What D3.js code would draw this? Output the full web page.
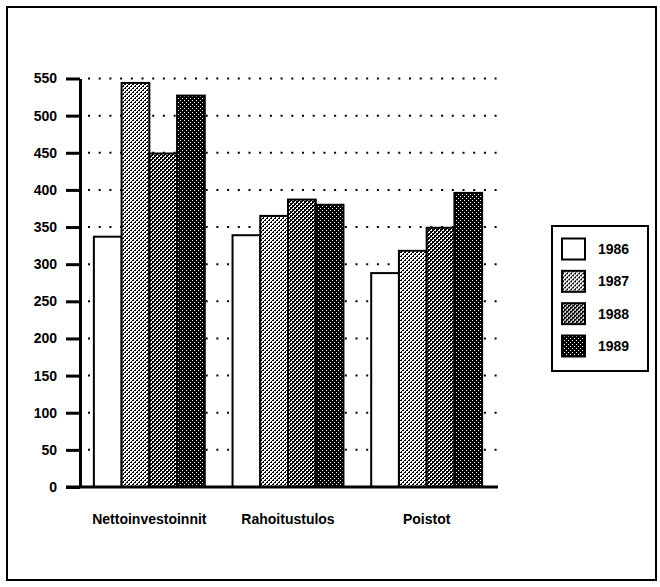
<!DOCTYPE html>
<html>
<head>
<meta charset="utf-8">
<script src="https://cdn.jsdelivr.net/npm/d3@7"></script>
<style>
  html, body { margin: 0; padding: 0; background: #fff; }
  svg { display: block; }
  text { font-family: "Liberation Sans", Arial, Helvetica, sans-serif; font-weight: bold; fill: #000; }
</style>
</head>
<body>
<svg id="chart" width="660" height="587"></svg>
<script>
// ---- data ----
const categories = ["Nettoinvestoinnit", "Rahoitustulos", "Poistot"];
const years = ["1986", "1987", "1988", "1989"];
const values1986 = [337, 339, 288];
const values1987 = [544, 365, 318];
const values1988 = [449, 387, 349];
const values1989 = [527, 380, 396];
const yTickValues = [0, 50, 100, 150, 200, 250, 300, 350, 400, 450, 500, 550];
const gridValues = [50, 100, 150, 200, 250, 300, 350, 400, 450, 500, 550];

const series = [values1986, values1987, values1988, values1989];
const rows = [];
categories.forEach((c, ci) => {
  years.forEach((yr, yi) => rows.push({ category: c, year: yr, value: series[yi][ci] }));
});

const svg = d3.select("#chart");

// ---- patterns ----
const defs = svg.append("defs");
function makePattern(id, bg, fg, cells) {
  const p = defs.append("pattern").attr("id", id).attr("patternUnits", "userSpaceOnUse")
    .attr("width", 4).attr("height", 4);
  p.append("rect").attr("width", 4).attr("height", 4).attr("fill", bg);
  cells.forEach(c => p.append("rect").attr("x", c[0]).attr("y", c[1])
    .attr("width", c[2]).attr("height", c[3]).attr("fill", fg)
    .attr("shape-rendering", "crispEdges"));
}
const stipple = [[0, 0, 2, 1], [2, 2, 2, 1], [3, 1, 1, 1], [1, 3, 1, 1]];
makePattern("p1987", "#fff", "#000", stipple);
makePattern("p1988", "#000", "#fff", stipple);
makePattern("p1989", "#000", "#fff", [[0, 0, 1, 1], [2, 2, 1, 1]]);
const fills = { "1986": "#fff", "1987": "url(#p1987)", "1988": "url(#p1988)", "1989": "url(#p1989)" };

// ---- frame ----
svg.append("rect").attr("x", 7).attr("y", 7).attr("width", 649).attr("height", 573)
  .attr("fill", "none").attr("stroke", "#000").attr("stroke-width", 2);

// ---- scales ----
const y = d3.scaleLinear().domain([0, 550]).range([487, 78.5]);
const x0 = d3.scaleBand().domain(categories).range([80, 496]).paddingInner(0.2).paddingOuter(0.1);
const x1 = d3.scaleBand().domain(years).range([0, x0.bandwidth()]);

// ---- gridlines ----
svg.append("g").selectAll("line").data(gridValues).join("line")
  .attr("x1", 88).attr("x2", 497)
  .attr("y1", d => y(d)).attr("y2", d => y(d))
  .attr("stroke", "#000").attr("stroke-width", 2)
  .attr("stroke-dasharray", "2,8.7");

// ---- bars ----
svg.append("g").selectAll("rect").data(rows).join("rect")
  .attr("x", d => x0(d.category) + x1(d.year))
  .attr("y", d => y(d.value))
  .attr("width", x1.bandwidth())
  .attr("height", d => y(0) - y(d.value))
  .attr("fill", d => fills[d.year])
  .attr("stroke", "#000").attr("stroke-width", 2);

// ---- y axis ----
const yAxis = d3.axisLeft(y).tickValues(yTickValues).tickSize(14).tickSizeOuter(0).tickPadding(9);
const gy = svg.append("g").attr("transform", "translate(80,0)").call(yAxis);
gy.select(".domain").attr("stroke-width", 3);
gy.selectAll(".tick line").attr("stroke-width", 3);
gy.selectAll(".tick text").attr("font-size", 14).attr("font-family", "Liberation Sans, Arial, sans-serif").attr("font-weight", "bold");

// ---- baseline ----
svg.append("line").attr("x1", 66).attr("x2", 498).attr("y1", y(0)).attr("y2", y(0))
  .attr("stroke", "#000").attr("stroke-width", 3);

// ---- category labels ----
const xAxis = d3.axisBottom(x0).tickSize(0).tickPadding(27);
const gx = svg.append("g").attr("transform", `translate(0,${y(0)})`).call(xAxis);
gx.select(".domain").remove();
gx.selectAll(".tick text").attr("font-size", 14).attr("font-family", "Liberation Sans, Arial, sans-serif").attr("font-weight", "bold");

// ---- legend ----
const lg = svg.append("g");
lg.append("rect").attr("x", 552).attr("y", 226).attr("width", 96).attr("height", 145)
  .attr("fill", "#fff").attr("stroke", "#000").attr("stroke-width", 2);
const ly = d3.scalePoint().domain(years).range([249, 346]);
const items = lg.selectAll("g.item").data(years).join("g").attr("class", "item")
  .attr("transform", d => `translate(562,${ly(d)})`);
items.append("rect").attr("x", 0).attr("y", -10.5).attr("width", 23).attr("height", 21)
  .attr("fill", d => fills[d]).attr("stroke", "#000").attr("stroke-width", 2);
items.append("text").attr("x", 36).attr("y", 0).attr("dy", "0.35em")
  .attr("font-size", 14).text(d => d);
</script>
</body>
</html>
